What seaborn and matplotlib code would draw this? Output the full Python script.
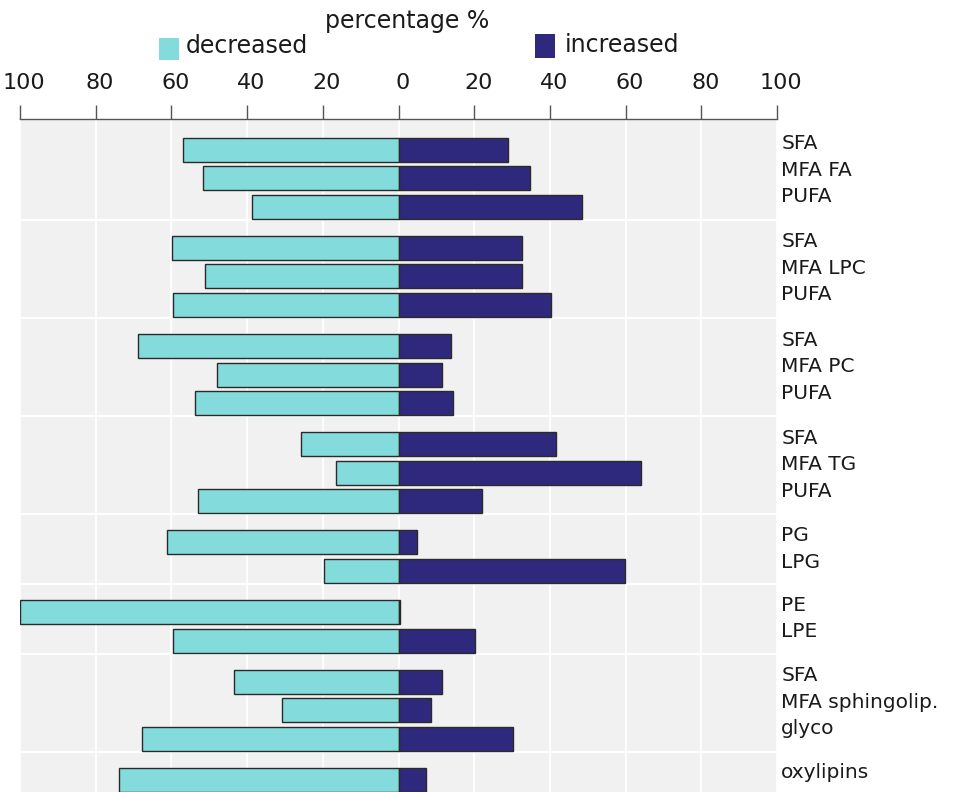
import numpy as np
import pandas as pd
import matplotlib
matplotlib.use("Agg")
import matplotlib.pyplot as plt
from matplotlib.patches import Rectangle
from matplotlib.transforms import ScaledTranslation
import seaborn as sns

# Lipid class of each row and the sub-class shown next to it
group = ["FA"] * 3 + ["LPC"] * 3 + ["PC"] * 3 + ["TG"] * 3 + ["PG"] * 2 + ["PE"] * 2 + ["sphingolip."] * 3 + ["oxylipins"]
subclass = ["SFA", "MFA", "PUFA",
            "SFA", "MFA", "PUFA",
            "SFA", "MFA", "PUFA",
            "SFA", "MFA", "PUFA",
            "PG", "LPG",
            "PE", "LPE",
            "SFA", "MFA", "glyco",
            "oxylipins"]

# Share of species (%) going down / up
decreased = [57.0, 51.7, 38.6,
             59.9, 51.2, 59.7,
             68.8, 47.9, 53.8,
             25.7, 16.5, 52.9,
             61.1, 19.7,
             100.0, 59.5,
             43.5, 30.8, 67.8,
             73.9]
increased = [29.0, 34.8, 48.5,
             32.5, 32.7, 40.2,
             13.8, 11.6, 14.4,
             41.6, 64.0, 22.0,
             4.9, 59.9,
             0.4, 20.1,
             11.6, 8.7, 30.3,
             7.2]

tick_values = [-100, -80, -60, -40, -20, 0, 20, 40, 60, 80, 100]
tick_labels = ["100", "80", "60", "40", "20", "0", "20", "40", "60", "80", "100"]

CYAN = "#84dbdb"
NAVY = "#2f297e"
EDGE = "#2a2a2a"
PANEL = "#f1f1f1"
AXIS = "#555555"

W, H = 973, 792
sns.set_style("white")
plt.rcParams["font.family"] = ["DejaVu Sans"]

# Row positions: rows of one class are packed, classes are separated by a gap
GAP = 0.44
pos = []
y = 0.0
for i, g in enumerate(group):
    if i > 0:
        y += 1.0 if g == group[i - 1] else 1.0 + GAP
    pos.append(y)

df = pd.DataFrame({
    "pos": pos,
    "decreased": -np.array(decreased),
    "increased": np.array(increased),
})

fig = plt.figure(figsize=(W / 100, H / 100), dpi=100)
ax = fig.add_axes([20 / W, 0.0, 757 / W, 673 / H])
ax.set_facecolor(PANEL)

common = dict(y="pos", orient="y", native_scale=True, width=0.84,
              edgecolor=EDGE, linewidth=1.0, errorbar=None, saturation=1, ax=ax)
sns.barplot(data=df, x="decreased", color=CYAN, **common)
sns.barplot(data=df, x="increased", color=NAVY, **common)

ax.set_xlim(-100, 100)
ax.set_ylim(pos[-1] + 0.42, -1.07)

# Vertical grid and white separators between the classes
ax.set_axisbelow(True)
ax.grid(axis="x", color="white", linewidth=1.3)
ax.grid(axis="y", visible=False)
for i in range(len(group) - 1):
    if group[i] != group[i + 1]:
        ax.axhline(pos[i] + 0.45, color="white", linewidth=1.6, zorder=0.6)

ax.xaxis.tick_top()
ax.set_xticks(tick_values)
ax.set_xticklabels(tick_labels, fontsize=16, color="#1a1a1a")
ax.tick_params(axis="x", direction="out", length=10, width=1, color=AXIS, pad=8.5)
shift = ScaledTranslation(4 / 100, 0, fig.dpi_scale_trans)
for lab in ax.get_xticklabels():
    lab.set_transform(lab.get_transform() + shift)
ax.set_yticks([])
ax.set_xlabel("")
ax.set_ylabel("")
for side in ["left", "right", "bottom"]:
    ax.spines[side].set_visible(False)
ax.spines["top"].set_color(AXIS)
ax.spines["top"].set_linewidth(1)

# Row labels on the right, class name after the MFA row
LINE = 0.93
order = list(dict.fromkeys(group))
for g in order:
    idx = [i for i, gg in enumerate(group) if gg == g]
    center = np.mean([pos[i] for i in idx]) - 0.35
    n = len(idx)
    for k, i in enumerate(idx):
        text = subclass[i]
        if text == "MFA":
            text = f"MFA {g}"
        ax.annotate(text, xy=(1, center + (k - (n - 1) / 2) * LINE),
                    xycoords=("axes fraction", "data"), xytext=(3, 0),
                    textcoords="offset points", ha="left", va="center_baseline",
                    fontsize=14.5, color="#1a1a1a", annotation_clip=False)

# Legend across the top
def fx(px):
    return px / W

def fy(py):
    return 1 - py / H

fig.text(fx(325), fy(28), "percentage %", fontsize=17, color="#1a1a1a", va="baseline")
fig.add_artist(Rectangle((fx(159), fy(60)), 20 / W, 22 / H, transform=fig.transFigure,
                         facecolor=CYAN, edgecolor="none"))
fig.text(fx(186), fy(53), "decreased", fontsize=17, color="#1a1a1a", va="baseline")
fig.add_artist(Rectangle((fx(535), fy(58)), 20 / W, 24 / H, transform=fig.transFigure,
                         facecolor=NAVY, edgecolor="none"))
fig.text(fx(565), fy(52), "increased", fontsize=17, color="#1a1a1a", va="baseline")

fig.savefig("out.png", dpi=100)
